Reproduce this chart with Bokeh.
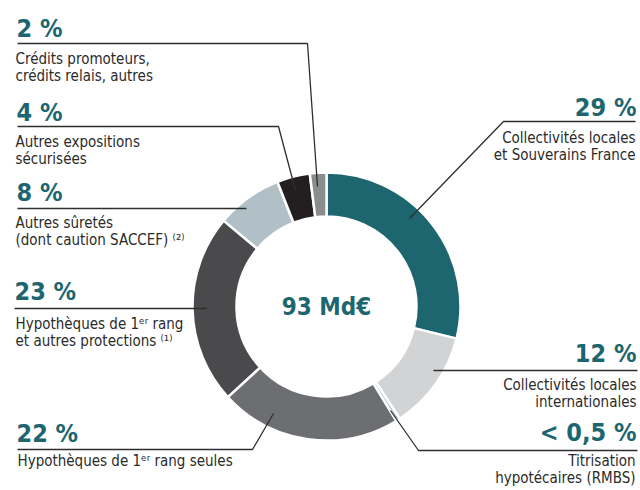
import numpy as np
from bokeh.plotting import figure
from bokeh.models import Range1d
from bokeh.core.properties import value
from bokeh.embed import file_html
from bokeh.resources import INLINE

# ---------------- data ----------------
categories = [
    "Collectivités locales et Souverains France",
    "Collectivités locales internationales",
    "Titrisation hypotécaires (RMBS)",
    "Hypothèques de 1er rang seules",
    "Hypothèques de 1er rang et autres protections",
    "Autres sûretés (dont caution SACCEF)",
    "Autres expositions sécurisées",
    "Crédits promoteurs, crédits relais, autres",
]
label_lines = [
    ["Collectivités locales", "et Souverains France"],
    ["Collectivités locales", "internationales"],
    ["Titrisation", "hypotécaires (RMBS)"],
    ["Hypothèques de 1ᵉʳ rang seules"],
    ["Hypothèques de 1ᵉʳ rang", "et autres protections ⁽¹⁾"],
    ["Autres sûretés", "(dont caution SACCEF) ⁽²⁾"],
    ["Autres expositions", "sécurisées"],
    ["Crédits promoteurs,", "crédits relais, autres"],
]
shares = [29, 12, 0.5, 22, 23, 8, 4, 2]
pct_labels = ["29 %", "12 %", "< 0,5 %", "22 %", "23 %", "8 %", "4 %", "2 %"]
total_label = "93 Md€"

# ---------------- styles ----------------
slice_colors = ["#1d6670", "#d1d3d4", "#a9bac2", "#6d6e71",
                "#4a4a4c", "#b1bfc7", "#231f20", "#8b8c8e"]
TEAL = "#1d6670"
TXT = "#2b2b2b"
LINE = "#2e2e2e"
FONT = "DejaVu Sans Condensed"
PCT_SIZE = 25
LAB_SIZE = 15
BASE_FIX = 0.42   # empirical offset of the alphabetic baseline (in em)

W, H = 640, 490
def Y(v):  # image row -> data y
    return H - v

CX, CY = 326, 306
R_IN, R_OUT = 90, 134

p = figure(width=W, height=H, output_backend="svg", toolbar_location=None,
           x_range=Range1d(0, W), y_range=Range1d(0, H), min_border=0)
p.axis.visible = False
p.grid.visible = False
p.outline_line_color = None
p.background_fill_color = "white"
p.border_fill_color = "white"

# ---------------- donut ----------------
frac = np.array(shares, dtype=float) / np.sum(shares)
cum = np.concatenate([[0], np.cumsum(frac)])
start = np.pi / 2 - 2 * np.pi * cum[:-1]
end = np.pi / 2 - 2 * np.pi * cum[1:]
p.annular_wedge(x=CX, y=Y(CY), inner_radius=R_IN, outer_radius=R_OUT,
                start_angle=start, end_angle=end, direction="clock",
                fill_color=slice_colors, line_color="white", line_width=2.5)

# ---------------- leader lines (layout, image coords) ----------------
leaders = [
    ([635, 503, 409], [121, 121, 218]),   # 29 %
    ([637, 433], [370, 370]),             # 12 %
    ([637, 418, 390], [450, 450, 410]),   # < 0,5 %
    ([17, 252, 273], [449, 449, 413]),    # 22 %
    ([14, 206], [308, 308]),              # 23 %
    ([17, 246], [208, 208]),              # 8 %
    ([17, 278, 295], [126, 126, 190]),    # 4 %
    ([17, 307, 317], [43, 43, 186]),      # 2 %
]
for xs, ys in leaders:
    p.line(xs, [Y(v) for v in ys], line_color=LINE, line_width=1.3)

# ---------------- percentage labels ----------------
pct_pos = [(636, 117, "right"), (636, 363, "right"), (636, 442, "right"),
           (16, 443, "left"), (14, 301, "left"), (16, 202, "left"),
           (16, 122, "left"), (16, 38, "left")]
for lab, (x, y, al) in zip(pct_labels, pct_pos):
    p.text(x=[x], y=[Y(y - BASE_FIX * PCT_SIZE)], text=[lab], text_font=value(FONT),
           text_font_style="bold", text_font_size=f"{PCT_SIZE}px", text_color=TEAL,
           text_align=al, text_baseline="alphabetic")

# ---------------- category text ----------------
first_baseline = [144, 391, 467, 467, 330, 229, 148, 65]
text_x = [635, 636, 635, 17, 15, 15, 15, 15]
LINE_STEP = 17
for lines, x0, y0, (_, _, al) in zip(label_lines, text_x, first_baseline, pct_pos):
    for k, t in enumerate(lines):
        yy = y0 + k * LINE_STEP - BASE_FIX * LAB_SIZE
        p.text(x=[x0], y=[Y(yy)], text=[t], text_font=value(FONT),
               text_font_size=f"{LAB_SIZE}px", text_color=TXT,
               text_align=al, text_baseline="alphabetic")

# ---------------- centre total ----------------
p.text(x=[CX], y=[Y(CY)], text=[total_label], text_font=value(FONT),
       text_font_style="bold", text_font_size="24px", text_color=TEAL,
       text_align="center", text_baseline="middle")

open("out.html", "w").write(file_html(p, INLINE))
